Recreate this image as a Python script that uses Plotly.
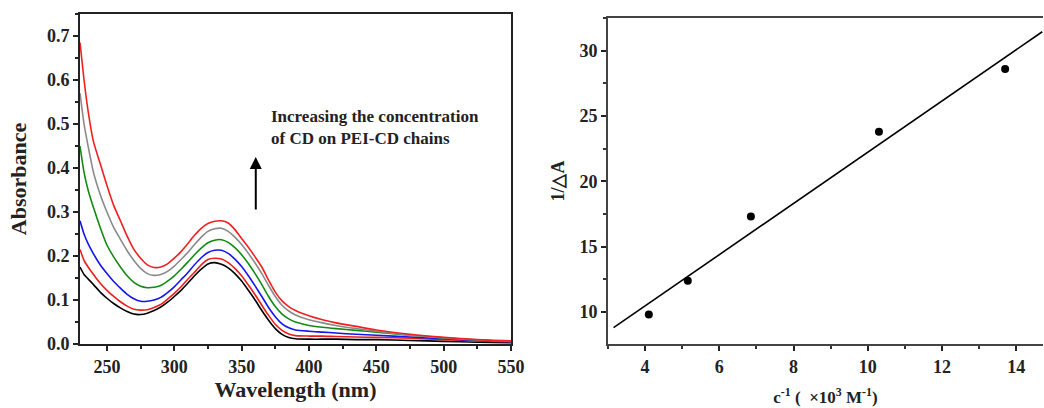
import plotly.graph_objects as go

# ---------------- data ----------------
wavelength = [230, 233, 236, 240, 245, 250, 255, 260, 265, 270, 275, 280, 285, 290, 295,
              300, 305, 310, 315, 320, 325, 330, 335, 340, 345, 350, 355, 360, 365, 370,
              375, 380, 385, 390, 400, 410, 420, 435, 450, 475, 500, 525, 550]

abs_black = [0.175, 0.158, 0.148, 0.135, 0.118, 0.104, 0.092, 0.082, 0.074, 0.068, 0.067, 0.070, 0.076, 0.084, 0.095,
             0.108, 0.122, 0.138, 0.155, 0.170, 0.182, 0.185, 0.181, 0.173, 0.160, 0.143, 0.122, 0.100, 0.076, 0.054,
             0.035, 0.022, 0.015, 0.012, 0.011, 0.011, 0.011, 0.010, 0.010, 0.008, 0.006, 0.004, 0.003]
abs_red1 = [0.215, 0.190, 0.175, 0.158, 0.138, 0.122, 0.108, 0.096, 0.086, 0.079, 0.077, 0.078, 0.083, 0.090, 0.102,
            0.115, 0.130, 0.147, 0.163, 0.180, 0.192, 0.195, 0.193, 0.185, 0.172, 0.155, 0.134, 0.112, 0.088, 0.065,
            0.045, 0.031, 0.023, 0.019, 0.018, 0.018, 0.017, 0.016, 0.015, 0.013, 0.010, 0.007, 0.005]
abs_blue = [0.280, 0.250, 0.228, 0.205, 0.180, 0.160, 0.142, 0.127, 0.113, 0.103, 0.097, 0.097, 0.100, 0.106, 0.117,
            0.130, 0.146, 0.162, 0.180, 0.196, 0.208, 0.213, 0.213, 0.206, 0.193, 0.176, 0.155, 0.132, 0.108, 0.083,
            0.062, 0.046, 0.037, 0.032, 0.029, 0.027, 0.025, 0.022, 0.020, 0.016, 0.012, 0.008, 0.005]
abs_green = [0.450, 0.390, 0.350, 0.310, 0.265, 0.225, 0.198, 0.175, 0.155, 0.140, 0.131, 0.128, 0.129, 0.133, 0.143,
             0.155, 0.170, 0.186, 0.203, 0.218, 0.230, 0.236, 0.237, 0.231, 0.219, 0.203, 0.183, 0.160, 0.135, 0.108,
             0.085, 0.068, 0.057, 0.050, 0.042, 0.038, 0.035, 0.031, 0.027, 0.020, 0.014, 0.009, 0.006]
abs_gray = [0.570, 0.500, 0.450, 0.390, 0.340, 0.300, 0.265, 0.238, 0.212, 0.190, 0.172, 0.160, 0.156, 0.158, 0.165,
            0.177, 0.192, 0.208, 0.226, 0.243, 0.256, 0.262, 0.263, 0.256, 0.243, 0.226, 0.206, 0.184, 0.160, 0.133,
            0.108, 0.088, 0.075, 0.066, 0.055, 0.048, 0.042, 0.035, 0.029, 0.020, 0.014, 0.009, 0.006]
abs_red2 = [0.685, 0.600, 0.530, 0.460, 0.410, 0.360, 0.315, 0.280, 0.245, 0.215, 0.195, 0.180, 0.174, 0.175, 0.182,
            0.195, 0.210, 0.228, 0.247, 0.263, 0.274, 0.279, 0.280, 0.275, 0.260, 0.240, 0.220, 0.198, 0.175, 0.145,
            0.118, 0.098, 0.085, 0.076, 0.064, 0.055, 0.048, 0.040, 0.032, 0.022, 0.015, 0.010, 0.007]

spectra = [("black", abs_black), ("#ee1c1c", abs_red1), ("#1515f0", abs_blue),
           ("#138a13", abs_green), ("#8a8a8a", abs_gray), ("#f02020", abs_red2)]

inv_conc = [4.1, 5.15, 6.85, 10.3, 13.7]          # c^-1 (x10^3 M^-1)
inv_dA = [9.8, 12.4, 17.3, 23.8, 28.6]            # 1/ΔA
fit_x = [3.15, 14.7]
fit_y = [8.8, 31.45]

x1_ticks = [250, 300, 350, 400, 450, 500, 550]
y1_ticks = [0.0, 0.1, 0.2, 0.3, 0.4, 0.5, 0.6, 0.7]
x2_ticks = [4, 6, 8, 10, 12, 14]
y2_ticks = [10, 15, 20, 25, 30]

# ---------------- figure ----------------
fig = go.Figure()
for color, vals in spectra:
    fig.add_trace(go.Scatter(x=wavelength, y=vals, mode="lines", xaxis="x", yaxis="y",
                             line=dict(color=color, width=1.6, shape="spline", smoothing=0.6),
                             showlegend=False, hoverinfo="skip"))

fig.add_trace(go.Scatter(x=fit_x, y=fit_y, mode="lines", xaxis="x2", yaxis="y2",
                         line=dict(color="black", width=1.6), showlegend=False))
fig.add_trace(go.Scatter(x=inv_conc, y=inv_dA, mode="markers", xaxis="x2", yaxis="y2",
                         marker=dict(color="black", size=8), showlegend=False))

FONT = "Liberation Serif, Times New Roman, serif"
tickf = dict(family=FONT, size=18, color="#222")

common = dict(showgrid=False, zeroline=False, ticks="outside", ticklen=5, tickwidth=1.5,
              tickcolor="#222", showline=True, linewidth=2, linecolor="#222", tickfont=tickf,
              automargin=False)

L, R, T, B = 80, 1, 14, 64
W, H = 1044, 408
PW, PH = W - L - R, H - T - B


def xd(a, b):
    return [(a - L) / PW, (b - L) / PW]


def yd(top, bottom):
    return [(H - B - bottom) / PH, (H - B - top) / PH]


fig.update_layout(
    width=W, height=H,
    margin=dict(l=L, r=R, t=T, b=B, autoexpand=False),
    paper_bgcolor="white", plot_bgcolor="white",
    xaxis=dict(domain=xd(80, 511), range=[230, 550], tickvals=x1_ticks,
               ticktext=[f"<b>{v}</b>" for v in x1_ticks],
               anchor="y", mirror=True,
               minor=dict(ticks="outside", ticklen=3, tickcolor="#222", dtick=25, tick0=225),
               title=dict(text="<b>Wavelength (nm)</b>", font=dict(family=FONT, size=22, color="#222"),
                          standoff=4),
               **common),
    yaxis=dict(domain=yd(14, 344), range=[0, 0.75], tickvals=y1_ticks,
               ticktext=[f"<b>{v:.1f}</b>" for v in y1_ticks],
               anchor="x", mirror=True,
               minor=dict(ticks="outside", ticklen=3, tickcolor="#222", dtick=0.05, tick0=0),
               title=dict(text="<b>Absorbance</b>", font=dict(family=FONT, size=22, color="#222"),
                          standoff=14),
               **common),
    xaxis2=dict(domain=xd(608, 1043), range=[3, 14.72], tickvals=x2_ticks,
                ticktext=[f"<b>{v}</b>" for v in x2_ticks],
                anchor="y2", mirror=True,
                minor=dict(ticks="outside", ticklen=3, tickcolor="#333", dtick=1, tick0=3),
                title=dict(text="<b>c<sup>-1</sup> (  ×10<sup>3</sup> M<sup>-1</sup>)</b>",
                           font=dict(family=FONT, size=17, color="#222"), standoff=16),
                **{**common, "linecolor": "#444", "linewidth": 1.8}),
    yaxis2=dict(domain=yd(18, 344), range=[7.55, 32.5], tickvals=y2_ticks,
                ticktext=[f"<b>{v}</b>" for v in y2_ticks],
                anchor="x2",
                minor=dict(ticks="outside", ticklen=3, tickcolor="#333", dtick=2.5, tick0=0),
                title=dict(text="<b>1/△A</b>", font=dict(family=FONT, size=18, color="#222"),
                           standoff=10),
                **{**common, "linecolor": "#444", "linewidth": 1.8}),
    annotations=[
        dict(x=360.5, y=0.425, ax=360.5, ay=0.302, xref="x", yref="y", axref="x", ayref="y",
             showarrow=True, arrowhead=2, arrowsize=1.2, arrowwidth=2, arrowcolor="black", text=""),
        dict(x=370, y=0.492, xref="x", yref="y", xanchor="left", yanchor="middle", showarrow=False,
             align="left",
             text="<b>Increasing the concentration<br>of CD on PEI-CD chains</b>",
             font=dict(family=FONT, size=17, color="#222")),
    ],
)

fig.write_html("out.html", config={"displayModeBar": False},
               post_script="document.body.style.margin='0';document.body.style.overflow='hidden';")
